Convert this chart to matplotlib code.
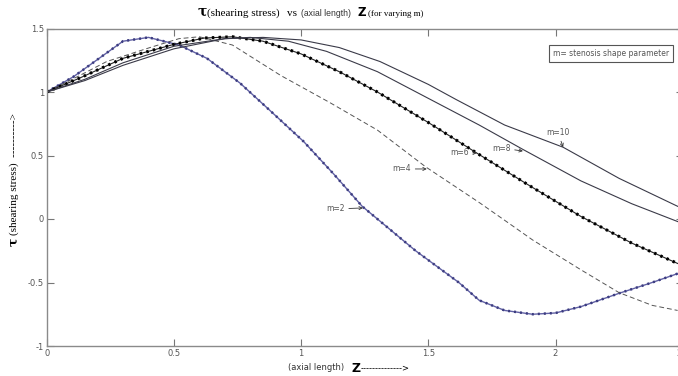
import matplotlib
matplotlib.use("Agg")
from matplotlib import pyplot as plt

# z (longueur axiale) et tau pour chaque m
z_m2 = [0, 0.105, 0.30, 0.40, 0.52, 0.63, 0.76, 0.88, 1.01, 1.13, 1.24, 1.30, 1.45,
        1.62, 1.70, 1.80, 1.91, 2.00, 2.10, 2.25, 2.38, 2.48]
tau_m2 = [1.0, 1.12, 1.40, 1.43, 1.37, 1.265, 1.07, 0.85, 0.61, 0.35, 0.10, 0.0, -0.25,
          -0.50, -0.64, -0.72, -0.75, -0.74, -0.69, -0.585, -0.50, -0.43]

z_m4 = [0, 0.12, 0.236, 0.406, 0.52, 0.60, 0.73, 0.92, 1.11, 1.30, 1.49, 1.70, 1.80,
        1.91, 2.10, 2.25, 2.38, 2.48]
tau_m4 = [1.0, 1.12, 1.24, 1.35, 1.42, 1.435, 1.37, 1.13, 0.92, 0.70, 0.41, 0.13, -0.01,
          -0.165, -0.40, -0.58, -0.68, -0.72]

z_m6 = [0, 0.13, 0.30, 0.50, 0.62, 0.73, 0.85, 1.00, 1.15, 1.30, 1.50, 1.69, 1.90,
        2.10, 2.30, 2.48]
tau_m6 = [1.0, 1.11, 1.265, 1.375, 1.425, 1.435, 1.40, 1.30, 1.16, 1.0, 0.76, 0.52, 0.26,
          0.02, -0.19, -0.35]

z_m8 = [0, 0.15, 0.30, 0.50, 0.70, 0.80, 0.95, 1.10, 1.30, 1.50, 1.70, 1.87, 2.10,
        2.30, 2.48]
tau_m8 = [1.0, 1.10, 1.23, 1.36, 1.42, 1.43, 1.40, 1.32, 1.16, 0.95, 0.74, 0.55, 0.30,
          0.12, -0.02]

z_m10 = [0, 0.15, 0.30, 0.50, 0.70, 0.85, 1.00, 1.15, 1.31, 1.50, 1.61, 1.80, 2.03,
         2.25, 2.48]
tau_m10 = [1.0, 1.09, 1.21, 1.34, 1.42, 1.43, 1.41, 1.35, 1.24, 1.06, 0.94, 0.74, 0.565,
           0.32, 0.10]

xticks = [0, 0.5, 1, 1.5, 2, 2.5]
xtick_labels = ["0", "0.5", "1", "1.5", "2", "2.5"]
yticks = [-1, -0.5, 0, 0.5, 1, 1.5]
ytick_labels = ["-1", "-0.5", "0", "0.5", "1", "1.5"]

# (texte, position du texte, pointe de la fleche)
annotations = [
    ("m=10", (2.01, 0.68), (2.03, 0.565)),
    ("m=8", (1.787, 0.559), (1.872, 0.535)),
    ("m=6", (1.622, 0.52), (1.691, 0.52)),
    ("m=4", (1.396, 0.394), (1.494, 0.394)),
    ("m=2", (1.135, 0.079), (1.243, 0.087)),
]

W, H = 678, 376
fig = plt.figure(figsize=(W / 100, H / 100), dpi=100)
ax = fig.add_axes([46.7 / W, 30 / H, 636 / W, 317.5 / H])

blue = "#6060a4"
ax.plot(z_m2, tau_m2, color=blue, lw=1.0)
ax.plot(z_m2, tau_m2, color="#3c3c80", lw=1.8, linestyle=(0, (0.8, 1.6)))
ax.plot(z_m4, tau_m4, color="#555555", lw=0.7, linestyle=(0, (5, 3)))
ax.plot(z_m6, tau_m6, color="#222222", lw=0.8)
ax.plot(z_m6, tau_m6, color="black", lw=2.2, linestyle=(0, (0.8, 1.4)))
ax.plot(z_m8, tau_m8, color="#3a3a48", lw=0.8)
ax.plot(z_m10, tau_m10, color="#3a3a48", lw=0.8)

ax.set_xlim(0, 2.5)
ax.set_ylim(-1, 1.5)
ax.set_xticks(xticks)
ax.set_xticklabels(xtick_labels)
ax.set_yticks(yticks)
ax.set_yticklabels(ytick_labels)
ax.tick_params(direction="in", length=5, width=0.8, color="#777777",
               labelsize=6, labelcolor="#555555", top=True, right=True, pad=2)
for s in ax.spines.values():
    s.set_color("#8a8a8a")
    s.set_linewidth(1.0)

for label, txt_xy, tip in annotations:
    ax.annotate(label, xy=tip, xytext=txt_xy, ha="center", va="center",
                fontsize=5.5, color="#555555",
                arrowprops=dict(arrowstyle="->", lw=0.6, color="#333333",
                                shrinkA=1, shrinkB=0))

# titre en plusieurs morceaux (polices differentes)
ty = 1 - 16 / H
fig.text(198 / W, ty, "τ", fontsize=10, weight="bold", family="DejaVu Serif", va="baseline")
fig.text(207 / W, ty, "(shearing stress)", fontsize=8, family="Liberation Serif", va="baseline")
fig.text(287 / W, ty, "vs", fontsize=8, family="Liberation Serif", va="baseline")
fig.text(301 / W, ty, "(axial length)", fontsize=6.2, family="Liberation Sans", va="baseline", color="#333333")
fig.text(357 / W, ty, "Z", fontsize=8.5, weight="bold", family="DejaVu Sans", va="baseline")
fig.text(368 / W, ty, "(for varying m)", fontsize=6.5, family="Liberation Serif", va="baseline")

# label axe y
fig.text(14 / W, 1 - 242 / H, "τ", fontsize=9, weight="bold", family="DejaVu Serif",
         rotation=90, ha="center", va="center")
fig.text(14 / W, 1 - 235 / H, "(shearing stress)  ---------->", fontsize=8,
         family="Liberation Serif", rotation=90, ha="center", va="bottom")

# label axe x
xy_ = 1 - 368 / H
fig.text(288 / W, xy_, "(axial length)", fontsize=6, family="DejaVu Sans", va="center", color="#333333")
fig.text(351 / W, xy_, "Z", fontsize=9, weight="bold", family="DejaVu Sans", va="center")
fig.text(361 / W, xy_, "-------------->", fontsize=6, family="DejaVu Sans", va="center")

fig.text(611 / W, 1 - 53.5 / H, "m= stenosis shape parameter", fontsize=5.5,
         color="#555555", ha="center", va="center",
         bbox=dict(boxstyle="square,pad=0.5", fc="white", ec="#555555", lw=0.8))

fig.savefig("out.png", dpi=100)
